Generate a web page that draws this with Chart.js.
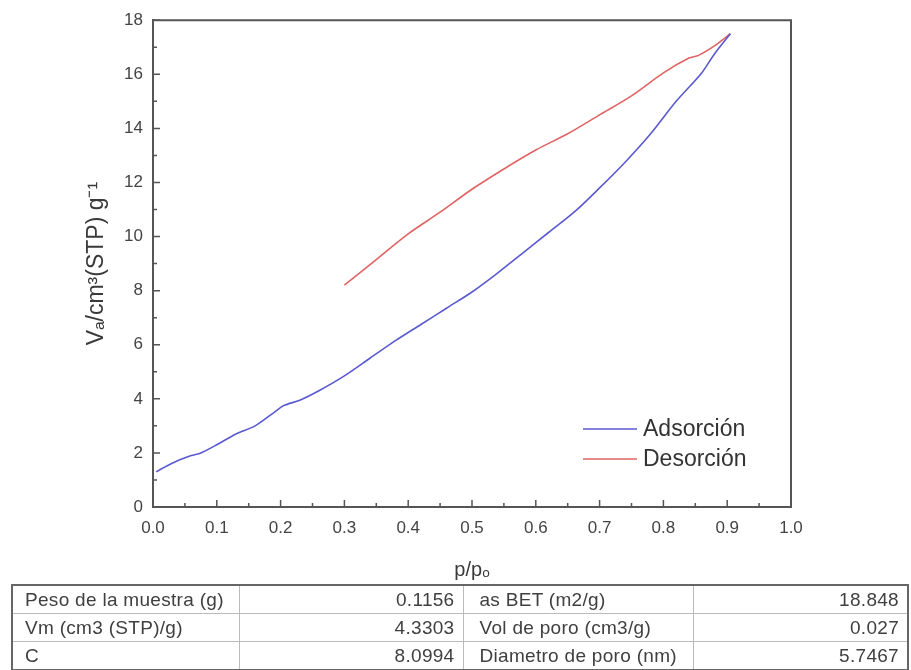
<!DOCTYPE html>
<html>
<head>
<meta charset="utf-8">
<script src="https://cdn.jsdelivr.net/npm/chart.js@4.4.0/dist/chart.umd.min.js"></script>
<style>
    body { margin: 0; background: #fff; font-family: 'Liberation Sans', Arial, sans-serif; }
    #wrap { position: relative; width: 911px; height: 670px; }
    #chartBox { position: absolute; left: 0; top: 0; width: 911px; height: 585px; }
    table.props {
        position: absolute; left: 11px; top: 584px; width: 896px; height: 85px;
        table-layout: fixed; border-collapse: collapse; border: 2px solid #666;
        font-size: 19px; letter-spacing: 0.3px; color: #404040;
    }
    table.props td { border: 1px solid #bbb; padding: 0 10px 0 12px; height: 27px; white-space: nowrap; }
    table.props td.num { text-align: right; padding-right: 8px; }
</style>
</head>
<body>
<div id="wrap">
    <div id="chartBox"><canvas id="isoChart"></canvas></div>
    <table class="props" id="propsTable">
        <colgroup><col style="width:227px"><col style="width:224px"><col style="width:230px"><col style="width:215px"></colgroup>
    </table>
</div>
<script>
// Isotherm branches (p/p0 vs adsorbed volume)
const adsX = [0.005, 0.03, 0.06, 0.075, 0.10, 0.13, 0.16, 0.19, 0.205, 0.23, 0.26, 0.30, 0.34, 0.38, 0.42, 0.46, 0.50, 0.54, 0.58, 0.62, 0.66, 0.70, 0.74, 0.78, 0.82, 0.86, 0.88, 0.905];
const adsY = [1.3, 1.62, 1.9, 2.0, 2.3, 2.7, 3.0, 3.5, 3.75, 3.95, 4.3, 4.85, 5.5, 6.15, 6.75, 7.35, 7.95, 8.65, 9.4, 10.15, 10.9, 11.8, 12.75, 13.8, 15.0, 16.05, 16.75, 17.5];
const desX = [0.30, 0.35, 0.40, 0.45, 0.50, 0.55, 0.60, 0.65, 0.70, 0.75, 0.80, 0.84, 0.855, 0.88, 0.905];
const desY = [8.2, 9.15, 10.1, 10.9, 11.75, 12.5, 13.2, 13.8, 14.5, 15.2, 16.05, 16.6, 16.7, 17.05, 17.5];
const seriesNames = ['Adsorción', 'Desorción'];
const seriesColors = ['#5a5ad0', '#e06464'];

// Sample summary
const tableLabelsLeft = ['Peso de la muestra (g)', 'Vm (cm3 (STP)/g)', 'C'];
const tableValuesLeft = ['0.1156', '4.3303', '8.0994'];
const tableLabelsRight = ['as BET (m2/g)', 'Vol de poro (cm3/g)', 'Diametro de poro (nm)'];
const tableValuesRight = ['18.848', '0.027', '5.7467'];

const tbl = document.getElementById('propsTable');
tableLabelsLeft.forEach((lab, i) => {
    const tr = document.createElement('tr');
    tr.innerHTML = '<td>' + lab + '</td>' +
        '<td class="num">' + tableValuesLeft[i] + '</td>' +
        '<td style="padding-left:16px">' + tableLabelsRight[i] + '</td>' +
        '<td class="num">' + tableValuesRight[i] + '</td>';
    tbl.appendChild(tr);
});

const axisColor = '#555';
const textColor = '#444';
const font = "'Liberation Sans', Arial, sans-serif";

const toPoints = (xs, ys) => xs.map((x, i) => ({ x: x, y: ys[i] }));

// inward ticks, frame and legend
const framePlugin = {
    id: 'frame',
    afterDraw(chart) {
        const { ctx, chartArea: a, scales } = chart;
        const xs = scales.x, ys = scales.y;
        ctx.save();
        ctx.strokeStyle = axisColor;
        ctx.lineWidth = 2;
        ctx.beginPath();
        ctx.moveTo(a.left, a.top); ctx.lineTo(a.right, a.top); ctx.lineTo(a.right, a.bottom);
        ctx.stroke();

        ctx.lineWidth = 1.5;
        ctx.beginPath();
        for (let v = 0; v <= 1.0001; v += 0.05) {
            const px = xs.getPixelForValue(v);
            const major = Math.round(v * 100) % 10 === 0;
            ctx.moveTo(px, a.bottom); ctx.lineTo(px, a.bottom - (major ? 7 : 4));
        }
        for (let v = 0; v <= 18; v += 1) {
            const py = ys.getPixelForValue(v);
            const major = v % 2 === 0;
            ctx.moveTo(a.left, py); ctx.lineTo(a.left + (major ? 7 : 4), py);
        }
        ctx.stroke();

        // legend
        ctx.font = '23px ' + font;
        ctx.textBaseline = 'middle';
        chart.data.datasets.forEach((ds, i) => {
            const y = 429 + i * 30;
            ctx.strokeStyle = ds.borderColor;
            ctx.lineWidth = 1.5;
            ctx.beginPath();
            ctx.moveTo(583, y); ctx.lineTo(637, y);
            ctx.stroke();
            ctx.fillStyle = '#333';
            ctx.fillText(ds.label, 643, y + 1);
        });
        ctx.restore();
    }
};

new Chart(document.getElementById('isoChart'), {
    type: 'scatter',
    data: {
        datasets: [
            { label: seriesNames[0], data: toPoints(adsX, adsY), borderColor: seriesColors[0], backgroundColor: seriesColors[0] },
            { label: seriesNames[1], data: toPoints(desX, desY), borderColor: seriesColors[1], backgroundColor: seriesColors[1] }
        ]
    },
    options: {
        responsive: true,
        maintainAspectRatio: false,
        animation: false,
        layout: { padding: { left: 79, top: 20, right: 120, bottom: 0 } },
        elements: {
            point: { radius: 0, hoverRadius: 0 },
            line: { borderWidth: 1.6, tension: 0.3 }
        },
        datasets: { scatter: { showLine: true } },
        plugins: { legend: { display: false }, tooltip: { enabled: false } },
        scales: {
            x: {
                type: 'linear', min: 0, max: 1,
                afterFit(s) { s.height = 78; },
                grid: { display: true, drawOnChartArea: false, drawTicks: false },
                border: { display: true, color: axisColor, width: 2 },
                ticks: {
                    stepSize: 0.1, padding: 11, color: textColor,
                    font: { family: font, size: 17 },
                    callback: v => v.toFixed(1)
                },
                title: {
                    display: true, text: 'p/pₒ', color: '#3a3a3a',
                    font: { family: font, size: 20 }, padding: { top: 0, bottom: 3 }
                }
            },
            y: {
                type: 'linear', min: 0, max: 18,
                afterFit(s) { s.width = 74; },
                grid: { display: true, drawOnChartArea: false, drawTicks: false },
                border: { display: true, color: axisColor, width: 2 },
                ticks: {
                    stepSize: 2, padding: 10, color: textColor,
                    font: { family: font, size: 17 }
                },
                title: {
                    display: true, text: 'Vₐ/cm³(STP) g⁻¹', color: '#3a3a3a',
                    font: { family: font, size: 23 }, padding: { top: 4, bottom: 0 }
                }
            }
        }
    },
    plugins: [framePlugin]
});
</script>
</body>
</html>
